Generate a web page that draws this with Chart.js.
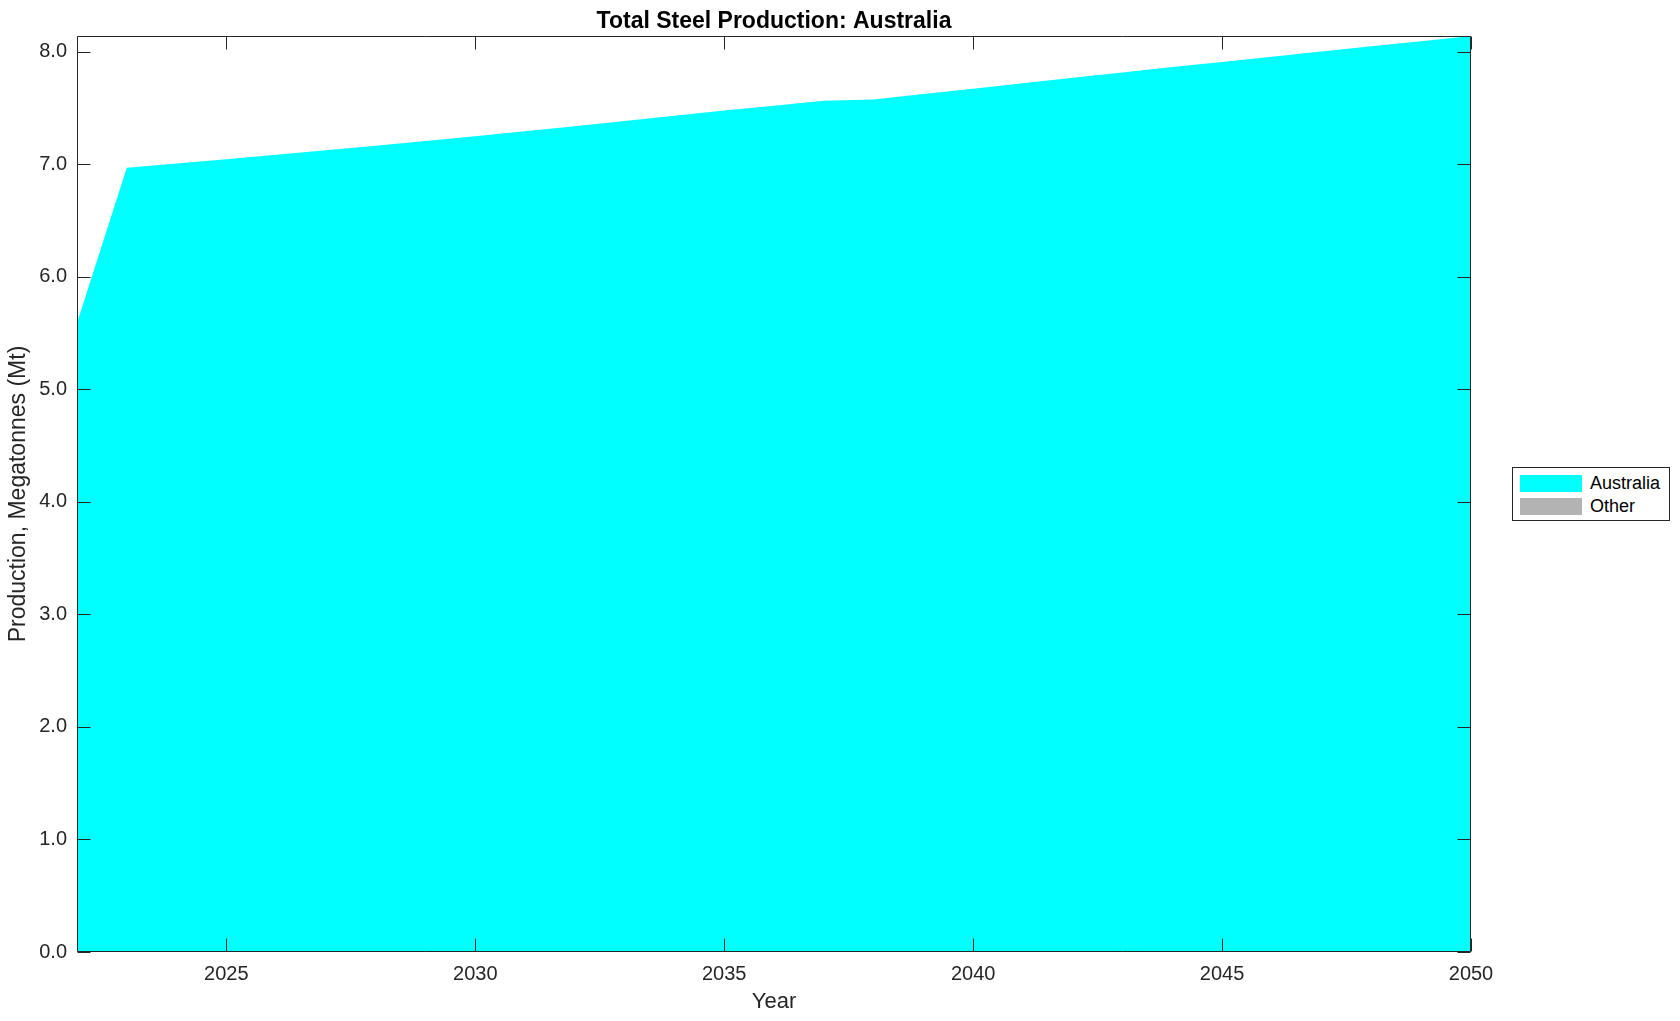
<!DOCTYPE html>
<html>
<head>
<meta charset="utf-8">
<script src="https://cdn.jsdelivr.net/npm/chart.js@4.4.1/dist/chart.umd.min.js"></script>
<style>
  html, body { margin: 0; padding: 0; background: #fff; }
  #wrap { position: relative; width: 1680px; height: 1021px; }
  #legend {
    position: absolute; left: 1512px; top: 467px; width: 156px; height: 52px;
    border: 1px solid #262626; background: #fff;
    font-family: "Liberation Sans", Arial, Helvetica, sans-serif; font-size: 18px; color: #000;
  }
  .item { position: absolute; left: 7px; height: 17px; line-height: 17px; }
  .sw { position: absolute; left: 0; top: 0; width: 62px; height: 17px; }
  .lbl { position: absolute; left: 70px; top: 0; white-space: nowrap; }
</style>
</head>
<body>
<div id="wrap">
  <canvas id="chart" width="1680" height="1021"></canvas>
  <div id="legend"></div>
</div>
<script>
(function () {

  const years = [2022, 2023, 2024, 2025, 2026, 2027, 2028, 2029, 2030, 2031,
                 2032, 2033, 2034, 2035, 2036, 2037, 2038, 2039, 2040, 2041,
                 2042, 2043, 2044, 2045, 2046, 2047, 2048, 2049, 2050];
  const australia = [5.59, 6.97, 7.007, 7.045, 7.084, 7.124, 7.165, 7.207, 7.25, 7.294,
                     7.339, 7.385, 7.431, 7.477, 7.521, 7.565, 7.576, 7.624, 7.672, 7.72,
                     7.768, 7.816, 7.864, 7.91, 7.956, 8.002, 8.048, 8.094, 8.14];
  const other = [0, 0, 0, 0, 0, 0, 0, 0, 0, 0,
                 0, 0, 0, 0, 0, 0, 0, 0, 0, 0,
                 0, 0, 0, 0, 0, 0, 0, 0, 0];
  const xTicks = [2025, 2030, 2035, 2040, 2045, 2050];
  const yTicks = [0, 1, 2, 3, 4, 5, 6, 7, 8];
  const seriesNames = ['Australia', 'Other'];
  const seriesColors = ['#00ffff', '#b3b3b3'];
  const chartTitle = 'Total Steel Production: Australia';

  const ink = '#262626';
  const family = '"Liberation Sans", Arial, Helvetica, sans-serif';

  const pts = arr => years.map((y, i) => ({ x: y, y: arr[i] }));

  // matlab-style box with inward ticks on all four sides, title over the axes
  const boxPlugin = {
    id: 'box',
    afterDraw(chart) {
      const { ctx, chartArea: a, scales } = chart;
      const L = Math.round(a.left) + 0.5, R = Math.round(a.right) - 0.5;
      const T = Math.round(a.top) + 0.5, B = Math.round(a.bottom) - 0.5;
      const len = 13;
      ctx.save();
      ctx.strokeStyle = ink;
      ctx.lineWidth = 1;
      ctx.beginPath();
      ctx.rect(L, T, R - L, B - T);
      xTicks.forEach(v => {
        const px = Math.round(scales.x.getPixelForValue(v)) + 0.5;
        ctx.moveTo(px, B); ctx.lineTo(px, B - len);
        ctx.moveTo(px, T); ctx.lineTo(px, T + len);
      });
      yTicks.forEach(v => {
        const py = Math.round(scales.y.getPixelForValue(v)) + 0.5;
        ctx.moveTo(L, py); ctx.lineTo(L + len, py);
        ctx.moveTo(R, py); ctx.lineTo(R - len, py);
      });
      ctx.stroke();

      ctx.fillStyle = '#000';
      ctx.font = 'bold 23px ' + family;
      ctx.textAlign = 'center';
      ctx.textBaseline = 'alphabetic';
      ctx.fillText(chartTitle, (a.left + a.right) / 2, 28);
      ctx.restore();
    }
  };

  const canvas = document.getElementById('chart');

  new Chart(canvas.getContext('2d'), {
    type: 'line',
    data: {
      datasets: [
        {
          label: seriesNames[0],
          data: pts(australia),
          backgroundColor: seriesColors[0],
          borderWidth: 0,
          pointRadius: 0,
          fill: 'origin',
          tension: 0
        },
        {
          label: seriesNames[1],
          data: pts(other),
          backgroundColor: seriesColors[1],
          borderWidth: 0,
          pointRadius: 0,
          fill: '-1',
          tension: 0
        }
      ]
    },
    options: {
      responsive: false,
      animation: false,
      devicePixelRatio: 1,
      layout: { padding: { left: 0, right: 209, top: 36, bottom: 0 } },
      plugins: {
        legend: { display: false },
        tooltip: { enabled: false },
        title: { display: false }
      },
      scales: {
        x: {
          type: 'linear',
          min: years[0],
          max: years[years.length - 1],
          grid: { display: false, drawTicks: false },
          border: { display: false },
          afterBuildTicks: s => { s.ticks = xTicks.map(v => ({ value: v })); },
          afterFit: s => { s.height = 69; },
          ticks: {
            color: ink, padding: 10, maxRotation: 0, autoSkip: false,
            font: { family, size: 20 },
            callback: v => String(v)
          },
          title: {
            display: true, text: 'Year', color: ink,
            font: { family, size: 22 },
            padding: { top: 0, bottom: 6 }
          }
        },
        y: {
          stacked: true,
          min: 0,
          max: Math.max(...australia),
          grid: { display: false, drawTicks: false },
          border: { display: false },
          afterBuildTicks: s => { s.ticks = yTicks.map(v => ({ value: v })); },
          afterFit: s => { s.width = 77; },
          ticks: {
            color: ink, padding: 10, autoSkip: false,
            font: { family, size: 20 },
            callback: v => Number(v).toFixed(1)
          },
          title: {
            display: true, text: 'Production, Megatonnes (Mt)', color: ink,
            font: { family, size: 23 },
            padding: { top: 5, bottom: 0 }
          }
        }
      }
    },
    plugins: [boxPlugin]
  });

  // legend box
  const legend = document.getElementById('legend');
  seriesNames.forEach((name, i) => {
    const item = document.createElement('div');
    item.className = 'item';
    item.style.top = (i === 0 ? 7 : 30) + 'px';
    item.innerHTML = '<span class="sw" style="background:' + seriesColors[i] + '"></span>' +
                     '<span class="lbl">' + name + '</span>';
    legend.appendChild(item);
  });

})();
</script>
</body>
</html>
